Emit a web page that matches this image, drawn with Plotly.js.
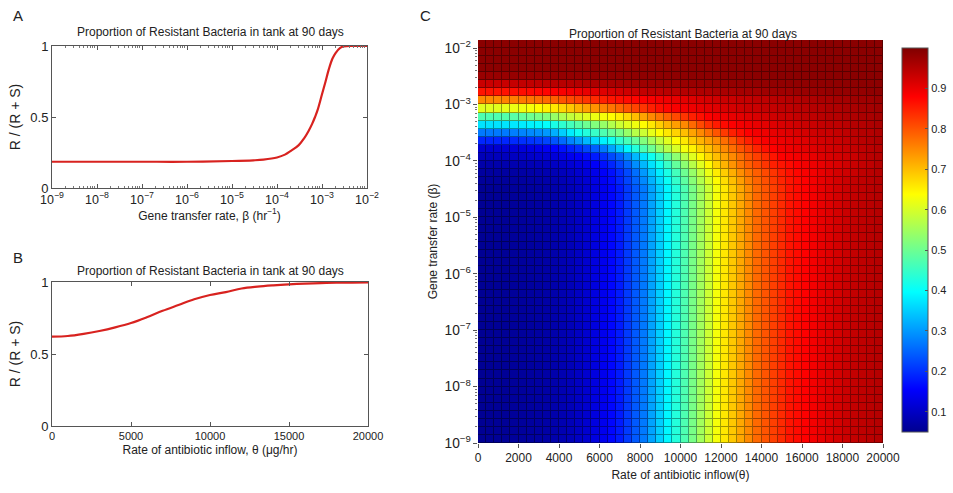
<!DOCTYPE html>
<html><head><meta charset="utf-8">
<script src="https://cdn.plot.ly/plotly-3.0.1.min.js"></script>
<style>html,body{margin:0;padding:0;background:#fff}#g{width:953px;height:493px}</style>
</head><body><div id="g"></div>
<script>
// ---------- Panel A : proportion vs gene transfer rate ----------
const betaA = [1e-9, 1e-8, 1e-7, 1e-6, 1e-5, 3e-5, 5e-5, 1e-4, 1.5e-4, 2e-4, 3e-4, 4e-4, 5e-4, 6e-4, 7e-4, 8e-4, 1e-3, 1.2e-3, 1.4e-3, 1.7e-3, 2e-3, 2.5e-3, 3e-3, 5e-3, 1e-2];
const propA = [0.185, 0.185, 0.185, 0.185, 0.19, 0.195, 0.2, 0.215, 0.235, 0.26, 0.30, 0.35, 0.40, 0.45, 0.50, 0.55, 0.66, 0.75, 0.83, 0.91, 0.95, 0.985, 0.997, 1.0, 1.0];

// ---------- Panel B : proportion vs antibiotic inflow ----------
const thetaB = [0, 1000, 2000, 3000, 4000, 5000, 6000, 7000, 8000, 9000, 10000, 11000, 12000, 13000, 14000, 15000, 16000, 17000, 18000, 19000, 20000];
const propB = [0.62, 0.625, 0.64, 0.66, 0.685, 0.715, 0.755, 0.80, 0.84, 0.88, 0.91, 0.93, 0.955, 0.968, 0.977, 0.984, 0.989, 0.992, 0.995, 0.996, 0.997];

// ---------- Panel C : heatmap rows (theta 200..19800 step 400) ----------
const rowBase = [.055,.056,.057,.058,.060,.062,.065,.068,.072,.077,.083,.090,.100,.110,.125,.140,.160,.180,.210,.240,.270,.310,.350,.390,.430,.470,.510,.550,.590,.630,.660,.690,.720,.750,.780,.800,.820,.840,.860,.870,.880,.890,.900,.910,.920,.930,.935,.940,.945,.950];
const row32 = [.06,.06,.061,.062,.064,.066,.069,.072,.076,.081,.087,.095,.105,.115,.13,.145,.165,.19,.22,.25,.285,.325,.365,.405,.445,.485,.525,.565,.605,.64,.67,.70,.73,.76,.785,.805,.825,.845,.86,.87,.88,.89,.90,.91,.92,.93,.935,.94,.945,.95];
const row33 = [.065,.065,.066,.067,.069,.071,.074,.077,.081,.086,.092,.10,.11,.12,.135,.15,.17,.195,.225,.26,.30,.34,.38,.42,.46,.50,.54,.58,.62,.655,.685,.715,.745,.77,.79,.81,.83,.85,.865,.875,.885,.89,.90,.91,.92,.925,.93,.94,.945,.95];
const row34 = [.075,.075,.077,.079,.081,.084,.087,.09,.095,.10,.108,.116,.125,.137,.15,.17,.19,.22,.25,.29,.33,.37,.41,.45,.49,.53,.57,.61,.645,.68,.71,.74,.77,.79,.81,.83,.85,.86,.87,.88,.89,.895,.90,.91,.915,.925,.93,.935,.94,.95];
const row35 = [.09,.09,.092,.094,.097,.10,.105,.11,.115,.12,.13,.14,.15,.165,.18,.20,.225,.25,.29,.33,.37,.41,.45,.49,.53,.57,.61,.645,.675,.70,.725,.75,.775,.80,.82,.84,.86,.88,.885,.89,.895,.90,.91,.915,.92,.925,.93,.94,.945,.95];
const row36 = [.11,.11,.112,.115,.118,.122,.128,.135,.145,.157,.17,.185,.20,.22,.245,.27,.31,.35,.39,.43,.47,.50,.54,.57,.60,.63,.65,.68,.70,.725,.75,.775,.80,.82,.845,.865,.88,.89,.895,.90,.905,.91,.915,.92,.925,.93,.935,.94,.945,.95];
const row37 = [.19,.19,.19,.19,.195,.20,.205,.21,.22,.235,.255,.28,.30,.33,.36,.385,.41,.44,.465,.49,.52,.55,.58,.61,.64,.66,.69,.71,.73,.75,.775,.80,.83,.85,.87,.885,.89,.895,.90,.905,.91,.915,.92,.925,.93,.935,.94,.945,.95,.955];
const row38 = [.27,.27,.27,.27,.275,.28,.285,.29,.30,.32,.35,.38,.41,.43,.45,.47,.49,.51,.54,.57,.59,.615,.64,.66,.68,.70,.725,.75,.775,.80,.825,.85,.865,.88,.89,.895,.90,.905,.91,.915,.92,.925,.93,.93,.935,.94,.945,.95,.95,.955];
const row39 = [.37,.37,.37,.372,.375,.38,.385,.39,.40,.42,.44,.46,.48,.50,.52,.54,.565,.59,.61,.625,.64,.66,.685,.71,.73,.75,.78,.81,.835,.855,.87,.88,.89,.895,.90,.905,.91,.915,.92,.925,.93,.93,.935,.94,.94,.945,.95,.95,.955,.96];
const row40 = [.47,.47,.47,.475,.48,.49,.50,.51,.52,.54,.56,.58,.595,.61,.62,.63,.64,.655,.675,.70,.725,.75,.77,.79,.81,.83,.85,.865,.88,.89,.895,.90,.905,.91,.915,.92,.925,.93,.93,.935,.94,.94,.945,.95,.95,.955,.955,.96,.96,.965];
const row41 = [.61,.61,.61,.615,.62,.625,.63,.64,.65,.66,.675,.69,.71,.725,.74,.755,.77,.785,.80,.815,.83,.85,.865,.875,.885,.89,.895,.90,.905,.91,.915,.92,.925,.93,.93,.935,.935,.94,.94,.945,.945,.95,.95,.955,.955,.96,.96,.965,.965,.97];
const row42 = [.75,.75,.75,.755,.76,.765,.77,.775,.78,.79,.80,.81,.82,.83,.84,.85,.86,.865,.87,.875,.88,.885,.89,.895,.90,.905,.91,.915,.92,.925,.93,.93,.935,.935,.94,.94,.945,.945,.95,.95,.955,.955,.96,.96,.965,.965,.97,.97,.97,.975];
const row43 = [.86,.86,.86,.862,.865,.868,.87,.873,.876,.88,.885,.89,.895,.90,.905,.91,.915,.92,.925,.93,.935,.94,.94,.945,.945,.95,.95,.955,.955,.96,.96,.96,.965,.965,.965,.97,.97,.97,.97,.975,.975,.975,.975,.98,.98,.98,.98,.98,.985,.985];
const row44 = [.93,.93,.93,.932,.934,.936,.938,.94,.942,.945,.948,.95,.952,.955,.957,.96,.962,.964,.966,.968,.97,.971,.972,.973,.974,.975,.976,.977,.978,.979,.98,.98,.981,.981,.982,.982,.983,.983,.984,.984,.985,.985,.985,.986,.986,.987,.987,.988,.988,.989];
const row45 = [.975,.975,.976,.976,.977,.977,.978,.978,.979,.979,.98,.98,.981,.981,.982,.982,.983,.983,.984,.984,.985,.985,.985,.986,.986,.986,.987,.987,.987,.988,.988,.988,.988,.989,.989,.989,.989,.99,.99,.99,.99,.99,.99,.99,.99,.99,.99,.99,.99,.99];
const rowTop = [.99,.99,.99,.99,.99,.99,.99,.99,.99,.99,.99,.99,.99,.99,.99,.99,.99,.99,.99,.99,.99,.99,.99,.99,.99,.99,.99,.99,.99,.99,.99,.99,.99,.99,.99,.99,.99,.99,.99,.99,.99,.99,.99,.99,.99,.99,.99,.99,.99,.99];

// rows from beta = 1e-9 (bottom) upward, 7 rows per decade
const zRows = [];
for (let k = 0; k < 32; k++) zRows.push(rowBase);
zRows.push(row32, row33, row34, row35, row36, row37, row38, row39, row40, row41, row42, row43, row44, row45, rowTop, rowTop, rowTop, rowTop);

const thetaC = rowBase.map((_, i) => 200 + 400 * i);           // linspace column centres
const betaC = zRows.map((_, k) => Math.pow(10, -9 + (k + 0.5) / 7)); // logspace row centres

const cbTicks = [0.1, 0.2, 0.3, 0.4, 0.5, 0.6, 0.7, 0.8, 0.9];

const jet = [[0,'rgb(0,0,143)'],[0.111,'rgb(0,0,255)'],[0.365,'rgb(0,255,255)'],[0.619,'rgb(255,255,0)'],[0.873,'rgb(255,0,0)'],[1,'rgb(128,0,0)']];
const jetDark = [[0,'rgb(0,0,85)'],[0.111,'rgb(0,0,160)'],[0.365,'rgb(0,160,160)'],[0.619,'rgb(160,160,0)'],[0.873,'rgb(160,0,0)'],[1,'rgb(80,0,0)']];

const F = 'Arial, "Liberation Sans", sans-serif';
const axisCommon = {showline: true, linecolor: '#555', linewidth: 1, zeroline: false, showgrid: false,
  tickfont: {family: F, size: 11, color: '#222'}, tickcolor: '#555'};

const traces = [
  {type: 'scatter', mode: 'lines', x: betaA, y: propA, xaxis: 'x', yaxis: 'y',
   line: {color: '#d8221f', width: 2.2, shape: 'spline'}, showlegend: false},
  {type: 'scatter', mode: 'lines', x: thetaB, y: propB, xaxis: 'x2', yaxis: 'y2',
   line: {color: '#d8221f', width: 2.2, shape: 'spline'}, showlegend: false},
  {type: 'heatmap', x: thetaC, y: betaC, z: zRows, xaxis: 'x3', yaxis: 'y3',
   colorscale: jetDark, zmin: 0.05, zmax: 1.0, showscale: false, hoverinfo: 'skip'},
  {type: 'heatmap', x: thetaC, y: betaC, z: zRows, xaxis: 'x3', yaxis: 'y3',
   colorscale: jet, zmin: 0.05, zmax: 1.0, xgap: 1, ygap: 1,
   colorbar: {x: 902/953, xanchor: 'left', xpad: 0, ypad: 0, y: 1 - 240/493, yanchor: 'middle',
     len: 384/493, lenmode: 'fraction', automargin: false,
     thickness: 26, thicknessmode: 'pixels', outlinewidth: 1, outlinecolor: '#555',
     tickvals: cbTicks, ticks: 'inside', ticklen: 3, tickcolor: '#555',
     tickfont: {family: F, size: 11, color: '#222'}}}
];

const layout = {
  width: 953, height: 493, margin: {l: 0, r: 0, t: 0, b: 0, autoexpand: false},
  paper_bgcolor: '#fff', plot_bgcolor: '#fff', showlegend: false,
  font: {family: F, color: '#222'},
  xaxis: Object.assign({}, axisCommon, {domain: [52/953, 367/953], anchor: 'y', type: 'log', range: [-9, -2],
    dtick: 1, exponentformat: 'power', ticks: 'inside', ticklen: 4, mirror: 'ticks',
    tickfont: {family: F, size: 10, color: '#222'},
    minor: {ticks: 'inside', ticklen: 2, tickcolor: '#777'},
    title: {text: 'Gene transfer rate, β (hr<sup>−1</sup>)', font: {family: F, size: 12, color: '#222'}, standoff: 4}}),
  yaxis: Object.assign({}, axisCommon, {domain: [1 - 188/493, 1 - 46/493], anchor: 'x', range: [0, 1],
    tickvals: [0, 0.5, 1], ticktext: ['0', '0.5', '1'], ticks: 'inside', ticklen: 4, mirror: 'ticks',
    tickfont: {family: F, size: 13, color: '#222'},
    title: {text: 'R / (R + S)', font: {family: F, size: 14, color: '#222'}, standoff: 6}}),
  xaxis2: Object.assign({}, axisCommon, {domain: [52/953, 368/953], anchor: 'y2', range: [0, 20000],
    tickvals: [0, 5000, 10000, 15000, 20000], ticktext: ['0', '5000', '10000', '15000', '20000'],
    ticks: 'inside', ticklen: 4, mirror: 'ticks',
    title: {text: 'Rate of antibiotic inflow, θ (μg/hr)', font: {family: F, size: 12, color: '#222'}, standoff: 4}}),
  yaxis2: Object.assign({}, axisCommon, {domain: [1 - 426/493, 1 - 282/493], anchor: 'x2', range: [0, 1],
    tickvals: [0, 0.5, 1], ticktext: ['0', '0.5', '1'], ticks: 'inside', ticklen: 4, mirror: 'ticks',
    tickfont: {family: F, size: 13, color: '#222'},
    title: {text: 'R / (R + S)', font: {family: F, size: 14, color: '#222'}, standoff: 6}}),
  xaxis3: Object.assign({}, axisCommon, {domain: [478/953, 883/953], anchor: 'y3', range: [0, 20000],
    dtick: 2000, tick0: 0, tickformat: 'd', ticks: 'outside', ticklen: 4, showline: false,
    tickfont: {family: F, size: 12, color: '#222'},
    title: {text: 'Rate of antibiotic inflow(θ)', font: {family: F, size: 12, color: '#222'}, standoff: 6}}),
  yaxis3: Object.assign({}, axisCommon, {domain: [1 - 443/493, 1 - 40/493], anchor: 'x3', type: 'log',
    range: [-9, -9 + 50/7], dtick: 1, exponentformat: 'power', ticks: 'outside', ticklen: 4, showline: false,
    minor: {ticks: 'outside', ticklen: 2, tickcolor: '#777'},
    tickfont: {family: F, size: 11, color: '#222'},
    title: {text: 'Gene transfer rate (β)', font: {family: F, size: 12, color: '#222'}, standoff: 4}}),
  annotations: [
    {text: 'Proportion of Resistant Bacteria in tank at 90 days', xref: 'paper', yref: 'paper', xanchor: 'center', yanchor: 'middle',
     x: 210/953, y: 1 - 32/493, showarrow: false, font: {family: F, size: 12, color: '#222'}},
    {text: 'Proportion of Resistant Bacteria in tank at 90 days', xref: 'paper', yref: 'paper', xanchor: 'center', yanchor: 'middle',
     x: 210/953, y: 1 - 271/493, showarrow: false, font: {family: F, size: 12, color: '#222'}},
    {text: 'Proportion of Resistant Bacteria at 90 days', xref: 'paper', yref: 'paper', xanchor: 'center', yanchor: 'middle',
     x: 683/953, y: 1 - 34/493, showarrow: false, font: {family: F, size: 12, color: '#222'}},
    {text: 'A', xref: 'paper', yref: 'paper', xanchor: 'center', yanchor: 'middle', x: 18/953, y: 1 - 15/493, showarrow: false, font: {family: F, size: 15, color: '#222'}},
    {text: 'B', xref: 'paper', yref: 'paper', xanchor: 'center', yanchor: 'middle', x: 18/953, y: 1 - 257/493, showarrow: false, font: {family: F, size: 15, color: '#222'}},
    {text: 'C', xref: 'paper', yref: 'paper', xanchor: 'center', yanchor: 'middle', x: 425/953, y: 1 - 15/493, showarrow: false, font: {family: F, size: 15, color: '#222'}}
  ]
};

Plotly.newPlot('g', traces, layout, {staticPlot: true, displayModeBar: false});
</script>
</body></html>
